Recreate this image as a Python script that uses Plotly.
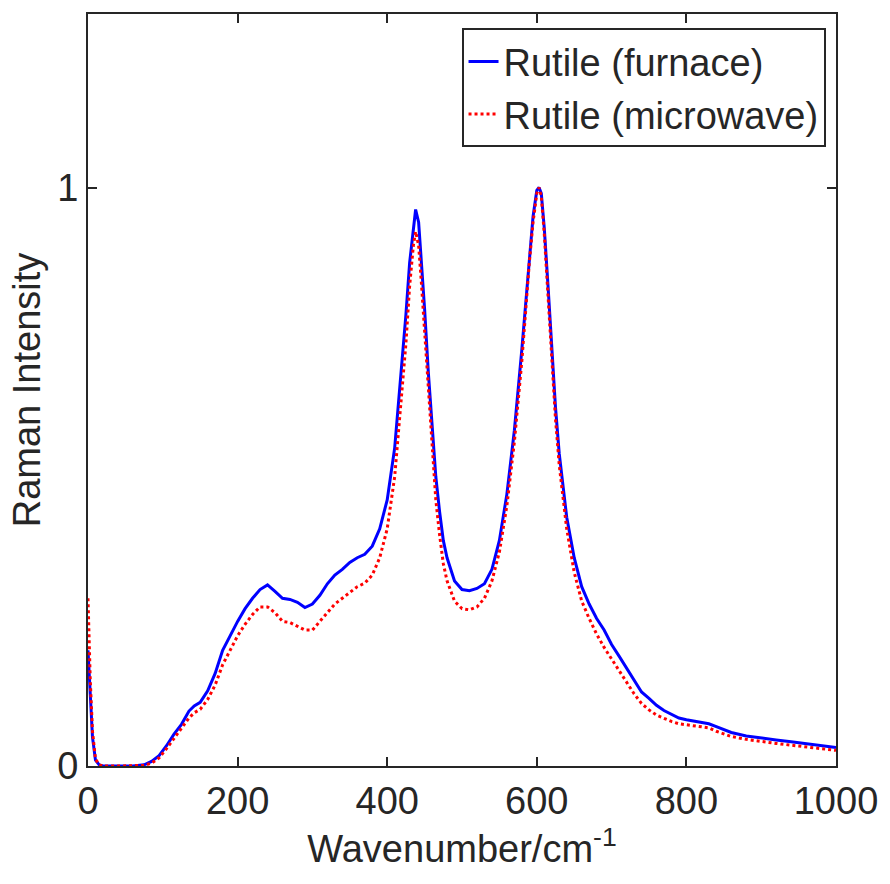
import plotly.graph_objects as go

wavenumber = [0, 3, 6, 10, 15, 20, 40, 60, 75, 85, 95, 105, 115, 125, 135, 142, 150, 160, 170, 180,
              190, 200, 210, 220, 230, 240, 250, 260, 270, 280, 290, 300, 310, 320, 330, 340, 350, 360,
              370, 380, 390, 400, 410, 420, 425, 430, 435, 438, 442, 446, 450, 455, 460, 465, 470, 475,
              480, 490, 500, 510, 520, 530, 540, 550, 560, 570, 580, 585, 590, 595, 600, 603, 606, 610,
              615, 620, 625, 630, 640, 650, 660, 670, 680, 690, 700, 710, 720, 730, 740, 750, 760, 770,
              780, 790, 800, 820, 830, 840, 860, 880, 900, 920, 940, 960, 980, 1000]

furnace = [0.20, 0.12, 0.05, 0.01, 0.002, 0, 0, 0, 0.002, 0.008, 0.018, 0.035, 0.055, 0.072, 0.095, 0.104,
           0.11, 0.13, 0.16, 0.20, 0.225, 0.25, 0.272, 0.29, 0.305, 0.313, 0.302, 0.29, 0.288, 0.283,
           0.274, 0.28, 0.295, 0.315, 0.33, 0.34, 0.352, 0.36, 0.366, 0.38, 0.41, 0.46, 0.55, 0.70, 0.78,
           0.87, 0.93, 0.962, 0.94, 0.87, 0.79, 0.68, 0.58, 0.50, 0.44, 0.39, 0.36, 0.32, 0.305, 0.303,
           0.307, 0.315, 0.34, 0.39, 0.47, 0.58, 0.72, 0.80, 0.88, 0.95, 0.995, 1.0, 0.99, 0.93, 0.83,
           0.72, 0.62, 0.54, 0.43, 0.36, 0.31, 0.28, 0.255, 0.235, 0.21, 0.19, 0.17, 0.148, 0.128, 0.117,
           0.105, 0.096, 0.089, 0.083, 0.080, 0.076, 0.073, 0.068, 0.058, 0.052, 0.048, 0.045, 0.042,
           0.039, 0.036, 0.032]

microwave = [0.29, 0.15, 0.06, 0.012, 0.002, 0, 0, 0, 0.001, 0.005, 0.014, 0.03, 0.048, 0.065, 0.083,
             0.092, 0.098, 0.115, 0.14, 0.175, 0.20, 0.225, 0.245, 0.262, 0.275, 0.275, 0.265, 0.25,
             0.248, 0.242, 0.235, 0.235, 0.25, 0.265, 0.28, 0.29, 0.30, 0.31, 0.316, 0.33, 0.36, 0.41,
             0.50, 0.65, 0.73, 0.83, 0.90, 0.924, 0.90, 0.83, 0.75, 0.64, 0.54, 0.46, 0.40, 0.35, 0.32,
             0.285, 0.272, 0.27, 0.275, 0.29, 0.32, 0.37, 0.45, 0.56, 0.70, 0.79, 0.87, 0.94, 0.99, 1.0,
             0.985, 0.92, 0.81, 0.70, 0.60, 0.52, 0.41, 0.335, 0.285, 0.255, 0.228, 0.205, 0.185, 0.165,
             0.145, 0.125, 0.108, 0.097, 0.088, 0.082, 0.077, 0.073, 0.071, 0.068, 0.066, 0.060, 0.051,
             0.046, 0.042, 0.039, 0.036, 0.033, 0.030, 0.027]

x_ticks = [0, 200, 400, 600, 800, 1000]
y_ticks = [0, 1]

FONT = "Arial, Liberation Sans, sans-serif"
DARK = "#262626"
FS = 38

fig = go.Figure()
fig.add_trace(go.Scatter(x=wavenumber, y=furnace, mode="lines", name="Rutile (furnace)",
                         line=dict(color="#0000ff", width=3)))
fig.add_trace(go.Scatter(x=wavenumber, y=microwave, mode="lines", name="Rutile (microwave)",
                         line=dict(color="#ff0000", width=3, dash="dot")))

axis_common = dict(showline=True, linecolor=DARK, linewidth=2, mirror="ticks", ticks="inside",
                   ticklen=9, tickwidth=2, tickcolor=DARK, showgrid=False, zeroline=False,
                   tickfont=dict(family=FONT, size=FS, color=DARK))

fig.update_layout(
    width=890, height=884,
    margin=dict(l=88, r=47, t=12, b=118),
    paper_bgcolor="white", plot_bgcolor="white",
    font=dict(family=FONT, size=FS, color=DARK),
    xaxis=dict(range=[0, 1000], tickvals=x_ticks,
               title=dict(text="Wavenumber/cm<sup>-1</sup>", font=dict(family=FONT, size=FS, color=DARK),
                          standoff=12),
               **axis_common),
    yaxis=dict(range=[0, 1.3], tickvals=y_ticks,
               title=dict(text="Raman Intensity", font=dict(family=FONT, size=FS, color=DARK),
                          standoff=5),
               **axis_common),
    legend=dict(x=0.986, y=0.981, xanchor="right", yanchor="top", bgcolor="white",
                bordercolor=DARK, borderwidth=2, font=dict(family=FONT, size=FS, color=DARK),
                tracegroupgap=0),
    showlegend=True,
)

fig.write_html("out.html")
